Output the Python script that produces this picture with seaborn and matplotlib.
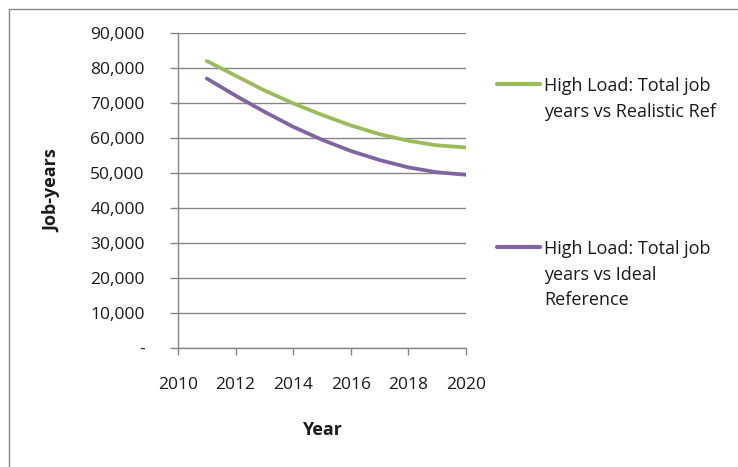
import matplotlib
matplotlib.use("Agg")
import matplotlib.pyplot as plt
import matplotlib.ticker as mticker
from matplotlib.patches import Rectangle
from matplotlib.lines import Line2D
import seaborn as sns
import pandas as pd

# values
years = [2011, 2012, 2013, 2014, 2015, 2016, 2017, 2018, 2019, 2020]
realistic_ref = [82000, 77800, 73600, 69900, 66600, 63600, 61100, 59200, 57900, 57300]
ideal_ref = [77000, 72100, 67500, 63200, 59500, 56300, 53700, 51600, 50200, 49500]

labels = ["High Load: Total job\nyears vs Realistic Ref",
          "High Load: Total job\nyears vs Ideal\nReference"]
colors = ["#9BBB59", "#8064A2"]

df = pd.DataFrame({
    "Year": years * 2,
    "Job-years": realistic_ref + ideal_ref,
    "series": [labels[0]] * len(years) + [labels[1]] * len(years),
})

sns.set_theme(style="white")
plt.rcParams["font.family"] = ["Open Sans", "DejaVu Sans"]

W, H = 738, 467
fig = plt.figure(figsize=(W / 100, H / 100), dpi=100)
ax = fig.add_axes([178 / W, 1 - 348 / H, (466 - 178) / W, (348 - 33) / H])

sns.lineplot(data=df, x="Year", y="Job-years", hue="series", palette=colors,
             linewidth=2.7, legend=False, ax=ax)

grid_c = "#868686"
txt_c = "#1a1a1a"
ax.set_xlim(2010, 2020)
ax.set_ylim(0, 90000)
ax.xaxis.set_major_locator(mticker.MultipleLocator(2))
ax.yaxis.set_major_locator(mticker.MultipleLocator(10000))
ax.yaxis.set_major_formatter(mticker.FuncFormatter(lambda v, p: "-" if v == 0 else f"{v:,.0f}"))
ax.grid(axis="y", color=grid_c, linewidth=1)
ax.set_axisbelow(True)
for s in ["top", "right"]:
    ax.spines[s].set_visible(False)
for s in ["left", "bottom"]:
    ax.spines[s].set_color(grid_c)
    ax.spines[s].set_linewidth(1)
# tick lengths / pads are in points (1 px = 0.72 pt at 100 dpi)
ax.tick_params(axis="x", direction="out", length=5, width=1, color=grid_c,
               pad=16, labelsize=12.5, labelcolor=txt_c, bottom=True)
ax.tick_params(axis="y", direction="out", length=6, width=1, color=grid_c,
               pad=18, labelsize=12.5, labelcolor=txt_c, left=True)

ax.set_xlabel("Year", fontsize=13, fontweight="bold", color=txt_c)
ax.set_ylabel("Job-years", fontsize=13, fontweight="bold", color=txt_c)
ax.yaxis.set_label_coords(-(178 - 52) / (466 - 178), 0.5)
ax.xaxis.set_label_coords(0.5, -(430 - 348) / (348 - 33))
ax.xaxis.label.set_va("center")
ax.yaxis.label.set_va("center")

# legend drawn at the right, line aligned with first text row
leg_rows = [(84, labels[0]), (247, labels[1])]
for (yy, lab), c in zip(leg_rows, colors):
    fig.add_artist(Line2D([497 / W, 540 / W], [1 - yy / H, 1 - yy / H],
                          color=c, linewidth=3, transform=fig.transFigure))
    fig.text(544 / W, 1 - (yy - 7) / H, lab, fontsize=13, va="top", ha="left",
             linespacing=1.55, color=txt_c)

# chart frame
fig.add_artist(Rectangle((9 / W, -0.1), 1.2, 1 - 9 / H + 0.1, transform=fig.transFigure,
                         fill=False, edgecolor=grid_c, linewidth=1))

fig.savefig("out.png", dpi=100)
